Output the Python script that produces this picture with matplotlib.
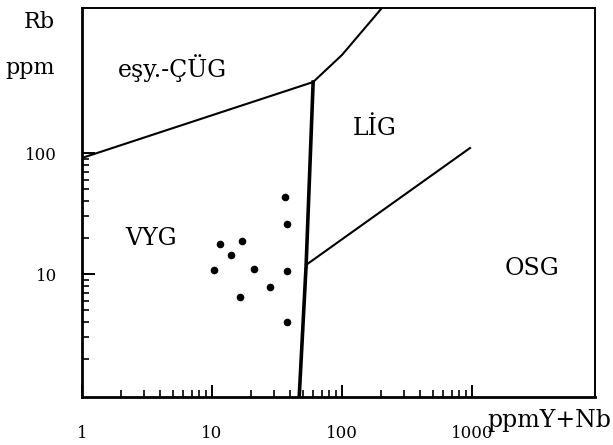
import matplotlib.pyplot as plt
from matplotlib.ticker import FixedLocator, NullFormatter

plt.rcParams['font.family'] = ['DejaVu Serif']

# sample points, Y+Nb (ppm) vs Rb (ppm)
ynb = [36.5, 38, 11.5, 17.1, 14.0, 10.4, 21.0, 38, 27.9, 16.4, 38]
rb = [43.5, 25.9, 17.7, 18.9, 14.4, 10.8, 10.9, 10.6, 7.85, 6.4, 4.0]

# field boundaries
syncol_x = [1, 60]
syncol_y = [91, 386]
upper_x = [60, 100, 210]
upper_y = [386, 646, 1650]
vert_x = [60, 53, 46.7]
vert_y = [386, 11.9, 0.9]
orog_x = [53, 966]
orog_y = [11.9, 110]

fields = ['eşy.-ÇÜG', 'LİG', 'VYG', 'OSG']
field_x = [5.0, 179, 3.4, 2900]
field_y = [505, 158, 19.5, 11.2]

fig = plt.figure(figsize=(6.13, 4.45), dpi=100)
ax = fig.add_axes([82/613, 1 - 397/445, 513/613, 389/445])
ax.set_xscale('log')
ax.set_yscale('log')
ax.set_xlim(1, 8840)
ax.set_ylim(0.963, 1579)

ax.plot(syncol_x, syncol_y, color='black', lw=1.5)
ax.plot(upper_x, upper_y, color='black', lw=1.5)
ax.plot(vert_x, vert_y, color='black', lw=2.6)
ax.plot(orog_x, orog_y, color='black', lw=1.5)
ax.scatter(ynb, rb, s=20, color='black', zorder=3)

for name, fx, fy in zip(fields, field_x, field_y):
    ax.text(fx, fy, name, fontsize=17, ha='center', va='center')

ax.xaxis.set_major_locator(FixedLocator([1, 10, 100, 1000]))
ax.xaxis.set_minor_locator(FixedLocator([m * d for d in (1, 10, 100) for m in range(2, 10)]))
ax.yaxis.set_major_locator(FixedLocator([10, 100]))
ax.yaxis.set_minor_locator(FixedLocator([m * d for d in (1, 10) for m in range(2, 10)]))
ax.xaxis.set_minor_formatter(NullFormatter())
ax.yaxis.set_minor_formatter(NullFormatter())
ax.set_xticklabels(['1', '10', '100', '1000'])
ax.set_yticklabels(['10', '100'])
ax.tick_params(which='major', direction='in', length=9, width=1.4, labelsize=12, pad=20)
ax.tick_params(which='minor', direction='in', length=5, width=1.2)
ax.tick_params(axis='y', which='major', pad=18)

for side in ('left', 'bottom'):
    ax.spines[side].set_linewidth(2)
for side in ('top', 'right'):
    ax.spines[side].set_linewidth(1.4)

fig.text(487/613, 1 - 420/445, 'ppmY+Nb', fontsize=17, ha='left', va='center')
fig.text(55/613, 1 - 22/445, 'Rb', fontsize=16, ha='right', va='center')
fig.text(55/613, 1 - 68/445, 'ppm', fontsize=16, ha='right', va='center')

fig.savefig('out.png', dpi=100)
